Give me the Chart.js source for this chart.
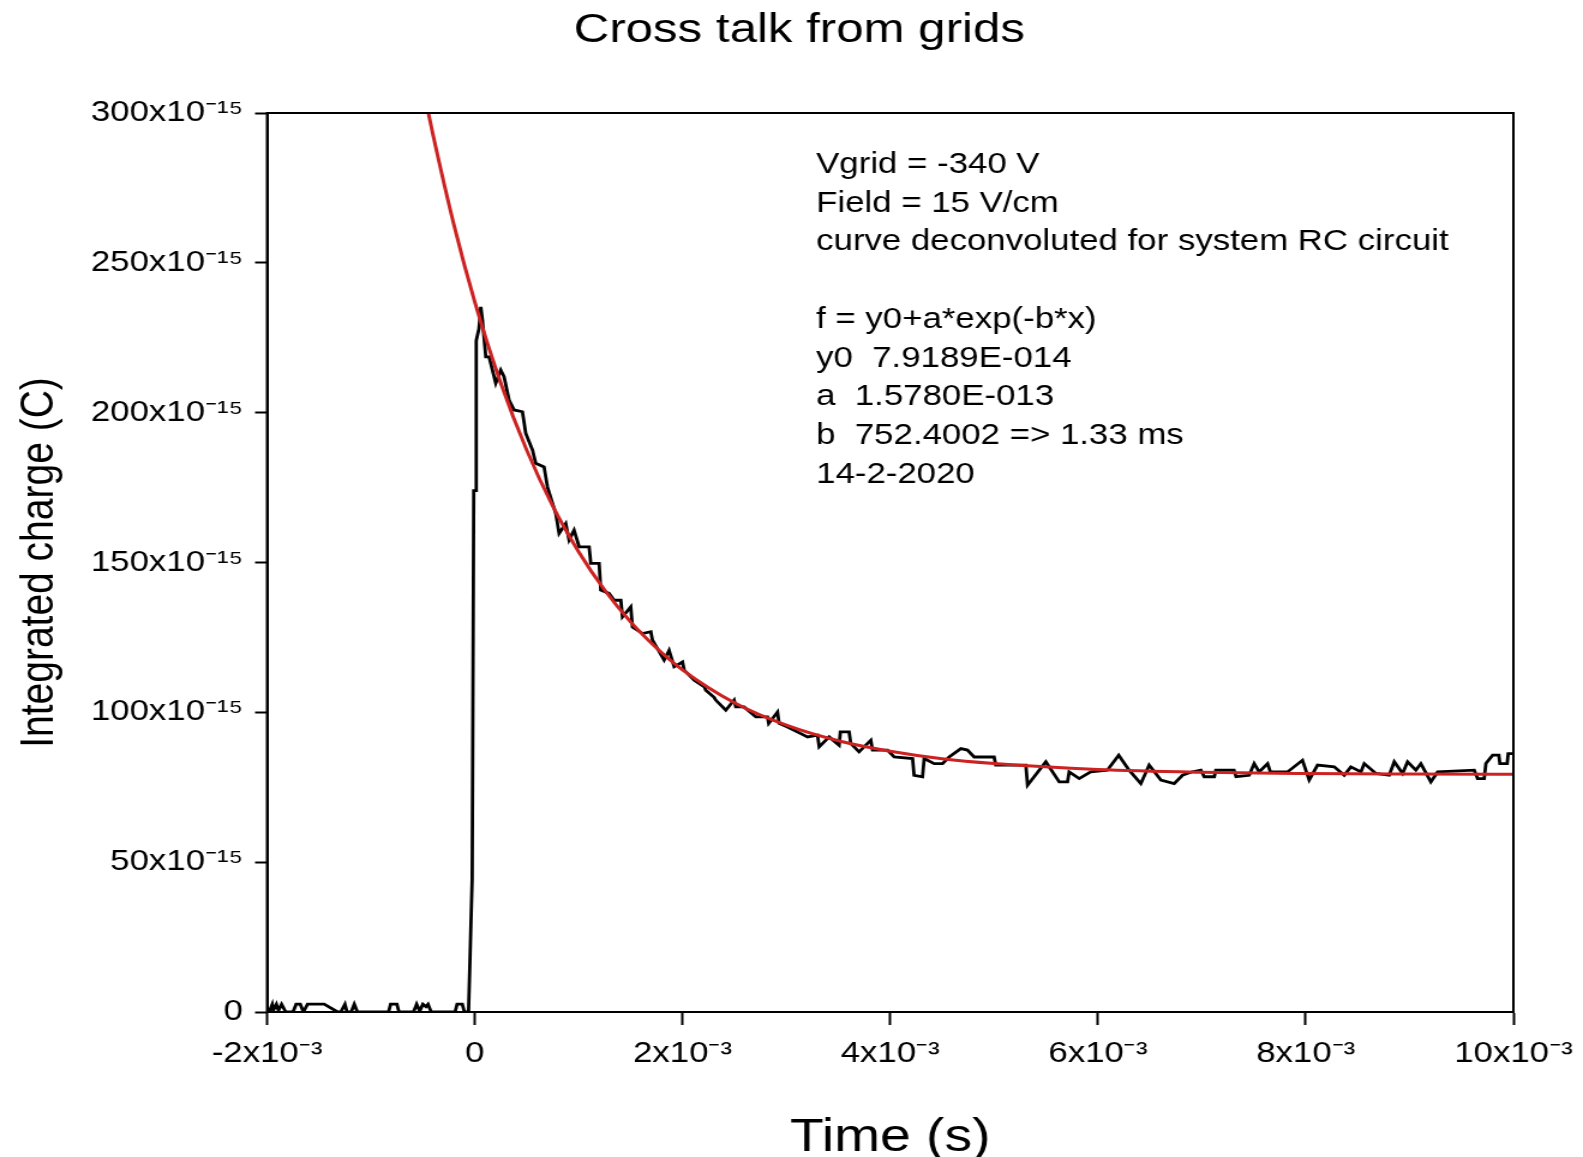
<!DOCTYPE html>
<html>
<head>
<meta charset="utf-8">
<title>Cross talk from grids</title>
<script src="https://cdn.jsdelivr.net/npm/chart.js@4.4.1/dist/chart.umd.min.js"></script>
<style>
  html, body { margin: 0; padding: 0; background: #fff; overflow: hidden; }
</style>
</head>
<body>
<!-- the original picture is stretched sideways (~1.2x), so the chart is drawn 1319px wide and widened by CSS -->
<canvas id="chart" width="1319" height="1157" style="display:block;width:1583px;height:1157px"></canvas>
<script>
// measured signal, time in ms, charge in fC
var traceTimeMs = [
  -2.00, -1.98, -1.95, -1.94, -1.91, -1.89, -1.86, -1.82, -1.75, -1.72,
  -1.68, -1.65, -1.61, -1.45, -1.32, -1.29, -1.25, -1.23, -1.19, -1.16,
  -1.13, -0.83, -0.81, -0.75, -0.73, -0.59, -0.56, -0.53, -0.50, -0.47,
  -0.45, -0.42, -0.19, -0.17, -0.12, -0.10, -0.06, -0.025, -0.01, 0.014,
  0.014, 0.04, 0.058, 0.074, 0.106, 0.138, 0.202, 0.25, 0.282, 0.33,
  0.379, 0.459, 0.491, 0.556, 0.587, 0.667, 0.70, 0.78, 0.812, 0.876,
  0.908, 0.956, 1.005, 1.101, 1.117, 1.197, 1.213, 1.293, 1.341, 1.406,
  1.422, 1.502, 1.518, 1.615, 1.695, 1.711, 1.823, 1.871, 1.92, 2.0,
  2.016, 2.113, 2.21, 2.224, 2.304, 2.32, 2.417, 2.497, 2.513, 2.593,
  2.706, 2.818, 2.83, 2.915, 2.93, 3.011, 3.139, 3.204, 3.3, 3.316,
  3.412, 3.508, 3.52, 3.604, 3.62, 3.70, 3.813, 3.83, 3.974, 4.038,
  4.215, 4.23, 4.311, 4.327, 4.423, 4.504, 4.567, 4.68, 4.744, 4.808,
  5.0, 5.016, 5.306, 5.322, 5.498, 5.627, 5.707, 5.723, 5.82, 5.93,
  6.09, 6.2, 6.30, 6.413, 6.493, 6.606, 6.734, 6.814, 6.90, 6.991,
  7.023, 7.12, 7.135, 7.31, 7.33, 7.456, 7.504, 7.552, 7.633, 7.66,
  7.825, 7.969, 8.034, 8.114, 8.275, 8.371, 8.435, 8.532, 8.564, 8.676,
  8.804, 8.853, 8.933, 8.981, 9.061, 9.109, 9.205, 9.27, 9.623, 9.655,
  9.719, 9.735, 9.80, 9.86, 9.87, 9.94, 9.95, 10.0
];
var traceChargeFc = [
  0, 0, 2.5, 0.5, 2.6, 0.5, 2.6, 0, 0, 2.6,
  2.6, 0, 2.6, 2.6, 0, 0, 2.6, 0, 0, 2.6,
  0, 0, 2.6, 2.6, 0, 0, 2.6, 0.3, 2.6, 1.8,
  2.6, 0, 0, 2.6, 2.6, 0, 0, 44.6, 174, 174,
  224, 228, 235.3, 230.9, 218.6, 218.6, 209.8, 214.2, 212, 204.2,
  200.9, 200.3, 193.1, 187.5, 183.1, 181.9, 175.2, 166.3, 159.7, 163,
  157.5, 160.8, 155.2, 155.2, 149.7, 149.7, 140.8, 139.7, 137.4, 137.4,
  131.9, 135.2, 128.5, 126.3, 126.9, 124.1, 117.4, 120.7, 115.2, 116.8,
  114.1, 110.7, 108.5, 107.4, 105, 104.1, 100.7, 104.1, 101.8, 101.8,
  98.5, 98.5, 96.3, 100.1, 96.3, 95.1, 92.9, 91.8, 92.4, 88.5,
  91.8, 89.0, 93.5, 93.5, 89.6, 86.8, 90.7, 87.4, 87.4, 85.1,
  84.6, 79.0, 78.5, 84.6, 82.9, 82.9, 85.1, 87.9, 87.4, 85.1,
  85.1, 82.4, 82.4, 75.7, 83.5, 76.8, 76.8, 80.1, 77.9, 80.1,
  80.7, 85.7, 80.7, 76.2, 82.4, 77.4, 76.2, 79.0, 80.1, 80.7,
  78.5, 78.5, 80.7, 80.7, 78.5, 79.0, 82.9, 80.1, 82.9, 80.1,
  80.1, 84.0, 77.4, 82.4, 81.8, 79.0, 81.8, 80.1, 82.9, 79.6,
  79.0, 83.5, 79.6, 83.5, 80.7, 82.9, 76.8, 80.1, 80.7, 77.9,
  77.9, 82.9, 85.7, 85.7, 82.9, 82.9, 86.2, 86.2
];

// fitted exponential
var fitTimeMs = [-0.45, -0.4, -0.2, 0, 0.25, 0.5, 0.75, 1, 1.25, 1.5, 1.75, 2,
                 2.5, 3, 3.5, 4, 4.5, 5, 6, 7, 8, 9, 10];
var fitChargeFc = [300.6, 292.4, 262.6, 237.0, 209.9, 187.5, 168.9, 153.6, 140.8, 130.2, 121.5, 114.2,
                   103.2, 95.7, 90.5, 87.0, 84.5, 82.9, 80.9, 80.0, 79.6, 79.4, 79.3];

var xTicks = [-2, 0, 2, 4, 6, 8, 10];
var yTicks = [0, 50, 100, 150, 200, 250, 300];

var chartTitle = 'Cross talk from grids';
var noteLines = [
  'Vgrid = -340 V',
  'Field = 15 V/cm',
  'curve deconvoluted for system RC circuit',
  '',
  'f = y0+a*exp(-b*x)',
  'y0  7.9189E-014',
  'a  1.5780E-013',
  'b  752.4002 => 1.33 ms',
  '14-2-2020'
];

var FONT = '"Liberation Sans", Arial, sans-serif';
Chart.defaults.font.family = FONT;
Chart.defaults.color = '#000';

function toPoints(xs, ys) {
  return xs.map(function(x, i) { return {x: x, y: ys[i]}; });
}

// box round the plot area (top and right sides)
var frame = {
  id: 'frame',
  afterDatasetsDraw: function(chart) {
    var a = chart.chartArea, ctx = chart.ctx;
    ctx.save();
    ctx.strokeStyle = '#000';
    ctx.lineWidth = 2;
    ctx.strokeRect(a.left, a.top, a.right - a.left, a.bottom - a.top);
    ctx.restore();
  }
};

// title (sits a bit left of the plot centre in the original) and the fit text block
var notes = {
  id: 'notes',
  afterDraw: function(chart) {
    var ctx = chart.ctx;
    ctx.save();
    ctx.fillStyle = '#000';
    ctx.textBaseline = 'middle';

    ctx.font = '41px ' + FONT;
    ctx.textAlign = 'center';
    ctx.fillText(chartTitle, 666, 31);

    ctx.font = '29px ' + FONT;
    ctx.textAlign = 'left';
    noteLines.forEach(function(line, i) {
      ctx.fillText(line, 680, 165 + i * 38.7);
    });
    ctx.restore();
  }
};

var ctx = document.getElementById('chart').getContext('2d');
new Chart(ctx, {
  type: 'line',
  data: {
    datasets: [{
      label: 'fit',
      data: toPoints(fitTimeMs, fitChargeFc),
      borderColor: '#cc2222',
      borderWidth: 3,
      pointRadius: 0,
      cubicInterpolationMode: 'monotone',
      clip: 0,
      order: 0
    }, {
      label: 'data',
      data: toPoints(traceTimeMs, traceChargeFc),
      borderColor: '#000',
      borderWidth: 2.8,
      pointRadius: 0,
      tension: 0,
      clip: 0,
      order: 1
    }]
  },
  options: {
    responsive: false,
    animation: false,
    layout: { padding: { left: 0, right: 58, top: 113, bottom: 0 } },
    plugins: {
      legend: { display: false },
      tooltip: { enabled: false },
      title: { display: false }
    },
    scales: {
      x: {
        type: 'linear',
        min: -2,
        max: 10,
        afterFit: function(scale) {
          scale.height = 145;
          // the end labels may hang over the padding, don't let them shrink the plot
          scale.paddingLeft = 0;
          scale.paddingRight = 0;
        },
        afterBuildTicks: function(scale) {
          scale.ticks = xTicks.map(function(v) { return {value: v}; });
        },
        ticks: {
          font: { size: 29 },
          padding: 12,
          maxRotation: 0,
          autoSkip: false,
          callback: function(v) { return v === 0 ? '0' : v + 'x10⁻³'; }
        },
        grid: { drawOnChartArea: false, tickLength: 13, tickWidth: 2, tickColor: '#000' },
        border: { color: '#000', width: 2 },
        title: {
          display: true,
          text: 'Time (s)',
          font: { size: 46, lineHeight: 0.8 },
          padding: { top: 0, bottom: 0 }
        }
      },
      y: {
        min: 0,
        max: 300,
        afterFit: function(scale) { scale.width = 222.5; },
        afterBuildTicks: function(scale) {
          scale.ticks = yTicks.map(function(v) { return {value: v}; });
        },
        ticks: {
          font: { size: 29 },
          padding: 10,
          callback: function(v) { return v === 0 ? '0' : v + 'x10⁻¹⁵'; }
        },
        grid: { drawOnChartArea: false, tickLength: 10, tickWidth: 2, tickColor: '#000' },
        border: { color: '#000', width: 2 },
        title: {
          display: true,
          text: 'Integrated charge (C)',
          font: { size: 39, lineHeight: 1 },
          padding: { top: 14, bottom: 0 }
        }
      }
    }
  },
  plugins: [frame, notes]
});
</script>
</body>
</html>
